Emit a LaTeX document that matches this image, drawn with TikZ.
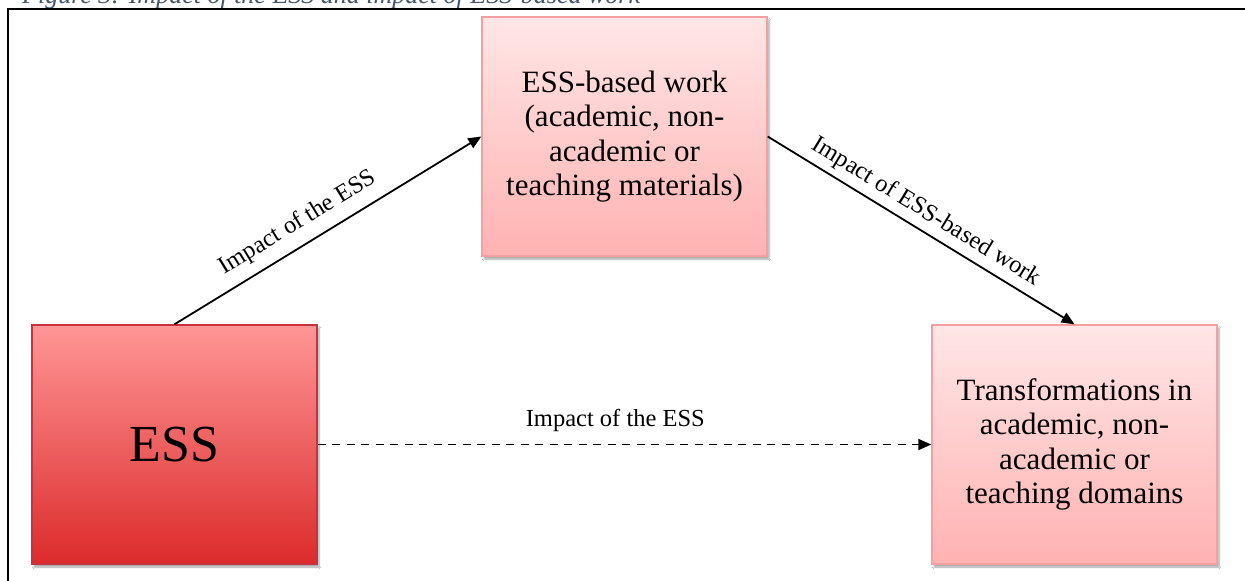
\documentclass[tikz,border=0pt]{standalone}
\usepackage{fontspec}
\setmainfont{Liberation Serif}
\usetikzlibrary{arrows.meta,shadows.blur}
\definecolor{essTop}{HTML}{FF9696}
\definecolor{essBot}{HTML}{DC2B2B}
\definecolor{essLine}{HTML}{C8323C}
\definecolor{pinkTop}{HTML}{FFE6E6}
\definecolor{pinkBot}{HTML}{FFB2B2}
\definecolor{pinkLine}{HTML}{F5A0A0}
\definecolor{capcol}{HTML}{44546A}
\tikzset{
  boxbase/.style={rectangle, minimum width=285pt, minimum height=239pt, inner sep=0pt,
    align=center, line width=1.4pt,
    blur shadow={shadow xshift=2pt, shadow yshift=-3pt, shadow blur steps=6, shadow opacity=35}},
  essbox/.style={boxbase, draw=essLine, top color=essTop, bottom color=essBot,
    font=\fontsize{52}{60}\selectfont},
  pinkbox/.style={boxbase, draw=pinkLine, top color=pinkTop, bottom color=pinkBot,
    font=\fontsize{31}{34.5}\selectfont},
  conn/.style={line width=1.8pt, -{Triangle[length=13pt,width=11pt]}},
  dashconn/.style={conn, dash pattern=on 8pt off 6.5pt},
  lbl/.style={inner sep=0pt, font=\fontsize{24.5}{28}\selectfont, sloped},
  frame/.style={line width=2.4pt}
}
\begin{document}
\begin{tikzpicture}[x=1pt,y=-1pt]
\useasboundingbox (0,0) rectangle (1245,581);
\clip (0,0) rectangle (1245,581);
\fill[white] (0,0) rectangle (1245,581);
\node[anchor=base west, inner sep=0pt, text=capcol, font=\itshape\fontsize{26}{30}\selectfont] (cap) at (22,3) {Figure 3: Impact of the ESS and impact of ESS-based work};
\draw[frame] (8,700) -- (8,9) -- (1300,9);
\node[essbox] (ess) at (174.5,444.5) {ESS};
\node[pinkbox] (work) at (624.5,136.5) {ESS-based work\\(academic, non-\\academic or\\teaching materials)};
\node[pinkbox] (trans) at (1074.5,444.5) {Transformations in\\academic, non-\\academic or\\teaching domains};
\draw[conn] (ess.north) -- node[lbl, pos=0.44, above=10pt] {Impact of the ESS} (work.west);
\draw[conn] (work.east) -- node[lbl, pos=0.485, above=6pt] {Impact of ESS-based work} (trans.north);
\draw[dashconn] (ess.east) -- node[lbl, pos=0.485, above=12pt] {Impact of the ESS} (trans.west);
\end{tikzpicture}
\end{document}
